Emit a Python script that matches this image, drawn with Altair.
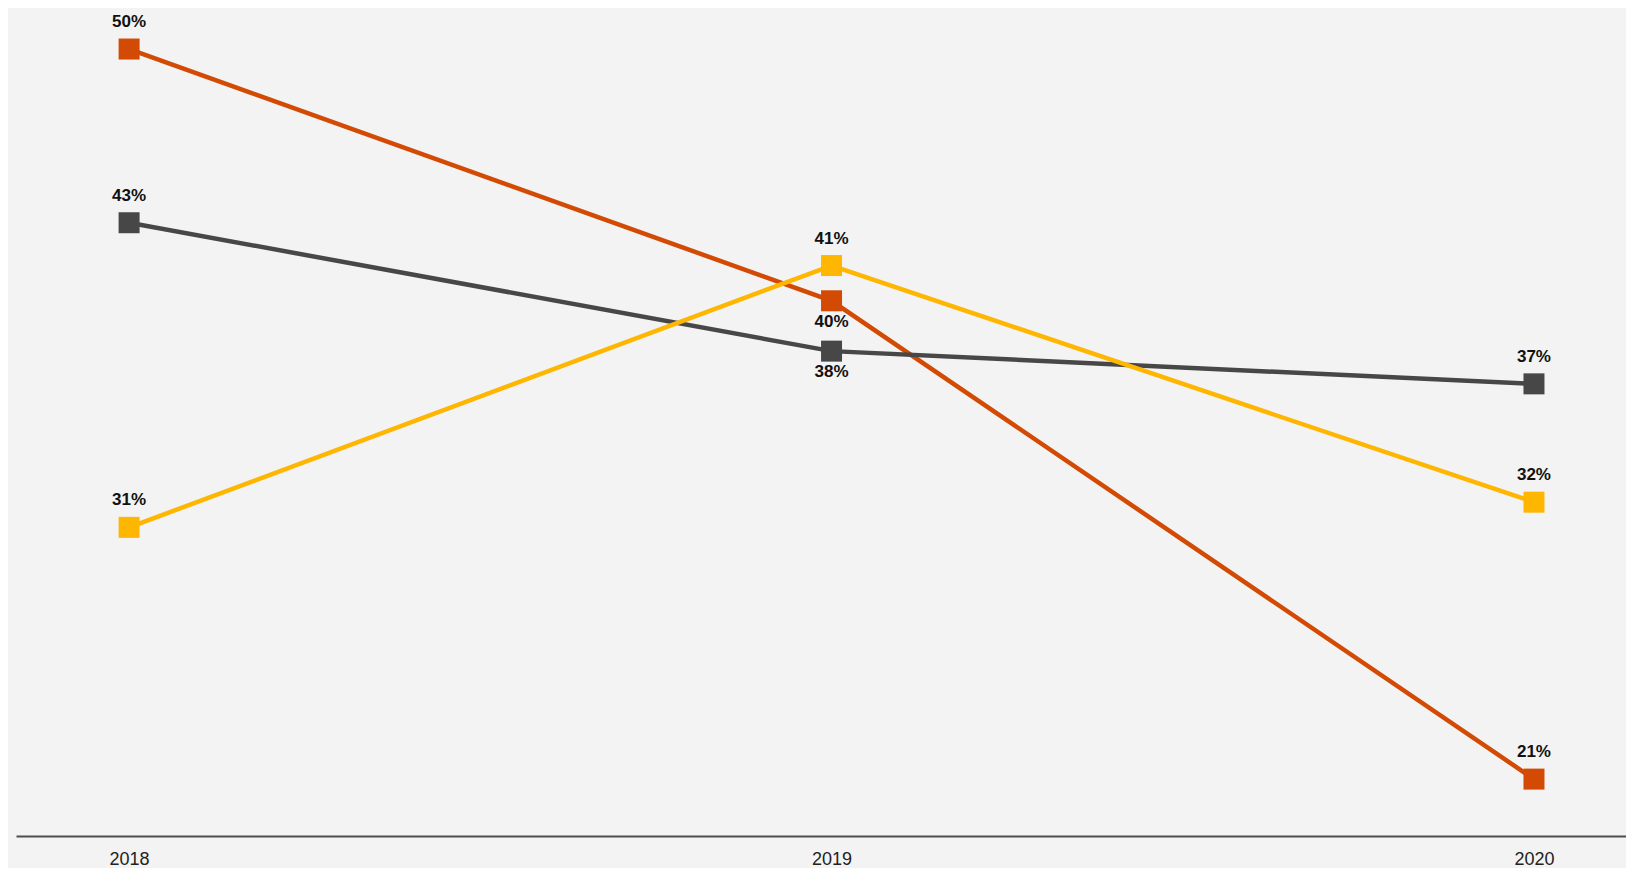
import altair as alt
import pandas as pd

years = [2018, 2019, 2020]
series_names = ["Series A", "Series B", "Series C"]
series_a = [50.0, 40.0, 21.0]   # orange
series_b = [43.1, 38.0, 36.7]   # dark gray
series_c = [31.0, 41.4, 32.0]   # yellow
labels_a = ["50%", "40%", "21%"]
labels_b = ["43%", "38%", "37%"]
labels_c = ["31%", "41%", "32%"]
# label placement relative to the marker
place_a = ["above", "below", "above"]
place_b = ["above", "below", "above"]
place_c = ["above", "above", "above"]
colors = ["#d24a04", "#474747", "#ffb600"]

rows = []
for name, vals, labs, places in [
    (series_names[0], series_a, labels_a, place_a),
    (series_names[1], series_b, labels_b, place_b),
    (series_names[2], series_c, labels_c, place_c),
]:
    for yr, v, lb, p in zip(years, vals, labs, places):
        rows.append({"year": yr, "value": v, "series": name, "label": lb, "place": p})
df = pd.DataFrame(rows)

x = alt.X("year:Q",
          scale=alt.Scale(domain=[2017.839, 2020.131], nice=False, zero=False),
          axis=alt.Axis(values=years, format="d", title=None, grid=False, ticks=False,
                        domainColor="#4d4d4d", domainWidth=2, labelFontSize=18,
                        labelColor="#222222", labelFont="Liberation Sans",
                        labelPadding=14, labelFlush=False))
y = alt.Y("value:Q",
          scale=alt.Scale(domain=[18.74, 51.63], nice=False, zero=False),
          axis=None)
color = alt.Color("series:N", scale=alt.Scale(domain=series_names, range=colors), legend=None)

base = alt.Chart(df)
lines = base.mark_line(strokeWidth=4.5).encode(x=x, y=y, color=color,
                                               order=alt.Order("year:Q"))
points = base.mark_point(shape="square", filled=True, size=441, opacity=1).encode(x=x, y=y, color=color)
text_above = base.transform_filter(alt.datum.place == "above").mark_text(
    dy=-27, fontSize=17, fontWeight="bold", font="Liberation Sans", color="#111111"
).encode(x=x, y=y, text="label:N")
text_below = base.transform_filter(alt.datum.place == "below").mark_text(
    dy=21, fontSize=17, fontWeight="bold", font="Liberation Sans", color="#111111"
).encode(x=x, y=y, text="label:N")

chart = alt.layer(lines, points, text_above, text_below).properties(
    width=1610, height=828,
    background="#f3f3f3",
    padding={"left": 8, "top": 0, "right": 0, "bottom": 0},
).configure_view(stroke=None, fill="#f3f3f3")

chart.save("out.html", embed_options={"renderer": "svg", "actions": False})
